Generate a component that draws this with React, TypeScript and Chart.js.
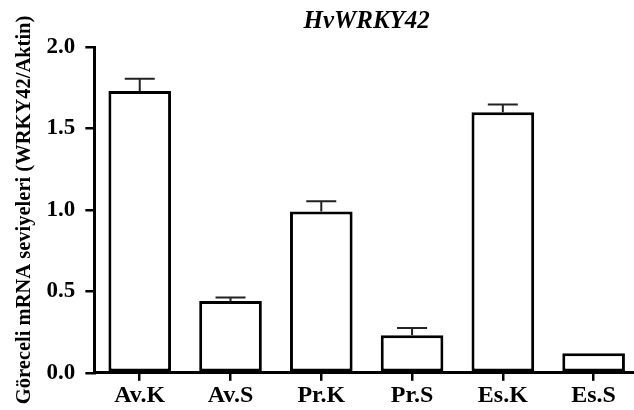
import React, { useEffect, useRef } from "react";
import { Chart, registerables } from "chart.js";

Chart.register(...registerables);

const categories = ["Av.K", "Av.S", "Pr.K", "Pr.S", "Es.K", "Es.S"];
const values = [1.73, 0.44, 0.99, 0.23, 1.60, 0.12];
const errors = [0.075, 0.022, 0.063, 0.045, 0.047, 0.0];
const yTicks = [0, 0.5, 1.0, 1.5, 2.0];
const titleText = "HvWRKY42";
const yTitleText = "Göreceli mRNA seviyeleri (WRKY42/Aktin)";

const errorBarPlugin = {
  id: "errorBars",
  afterDatasetsDraw(chart: any) {
    const ctx = chart.ctx;
    const meta = chart.getDatasetMeta(0);
    const y = chart.scales.y;
    ctx.save();
    ctx.strokeStyle = "#222";
    ctx.lineWidth = 2;
    meta.data.forEach((bar: any, i: number) => {
      const e = errors[i];
      if (!e) return;
      const top = y.getPixelForValue(values[i] + e);
      const base = y.getPixelForValue(values[i]);
      ctx.beginPath();
      ctx.moveTo(bar.x, base);
      ctx.lineTo(bar.x, top);
      ctx.moveTo(bar.x - 15, top);
      ctx.lineTo(bar.x + 15, top);
      ctx.stroke();
    });
    ctx.restore();
  },
};

export default function App() {
  const ref = useRef<HTMLCanvasElement>(null);
  useEffect(() => {
    if (!ref.current) return;
    const chart = new Chart(ref.current, {
      type: "bar",
      data: {
        labels: categories,
        datasets: [
          {
            data: values,
            backgroundColor: "#ffffff",
            borderColor: "#000000",
            borderWidth: 3,
            borderSkipped: false,
            categoryPercentage: 1,
            barPercentage: 0.69,
          },
        ],
      },
      options: {
        responsive: false,
        animation: false,
        devicePixelRatio: 1,
        layout: { padding: { left: 8, right: 6, top: 0, bottom: 0 } },
        plugins: {
          legend: { display: false },
          tooltip: { enabled: false },
          title: {
            display: true,
            fullSize: false,
            text: titleText,
            color: "#000",
            font: { family: "Liberation Serif", size: 25, weight: "bold", style: "italic" },
            padding: { top: 7, bottom: 10 },
          },
        },
        scales: {
          x: {
            offset: true,
            grid: {
              display: true,
              drawOnChartArea: false,
              drawTicks: true,
              tickLength: 8,
              lineWidth: 2.5,
              color: "#000",
              offset: false,
            },
            border: { display: true, width: 3, color: "#000" },
            ticks: {
              color: "#000",
              padding: 5,
              font: { family: "Liberation Serif", size: 24, weight: "bold", lineHeight: 0.8 },
            },
          },
          y: {
            min: 0,
            max: 2,
            afterBuildTicks: (axis: any) => {
              axis.ticks = yTicks.map((v) => ({ value: v }));
            },
            grid: {
              display: true,
              drawOnChartArea: false,
              drawTicks: true,
              tickLength: 9,
              lineWidth: 2.5,
              color: "#000",
            },
            border: { display: true, width: 3, color: "#000" },
            ticks: {
              color: "#000",
              padding: 10,
              font: { family: "Liberation Serif", size: 23, weight: "bold" },
              callback: (v: any) => Number(v).toFixed(1),
            },
            title: {
              display: true,
              text: yTitleText,
              color: "#000",
              font: { family: "Liberation Serif", size: 20.5, weight: "bold" },
              padding: { top: 4, bottom: 0 },
            },
          },
        },
      },
      plugins: [errorBarPlugin],
    });
    return () => chart.destroy();
  }, []);
  return (
    <div style={{ position: "fixed", left: 0, top: 0, width: 634, height: 410, overflow: "hidden", background: "#fff" }}>
      <canvas ref={ref} width={645} height={410} style={{ display: "block" }} />
    </div>
  );
}
